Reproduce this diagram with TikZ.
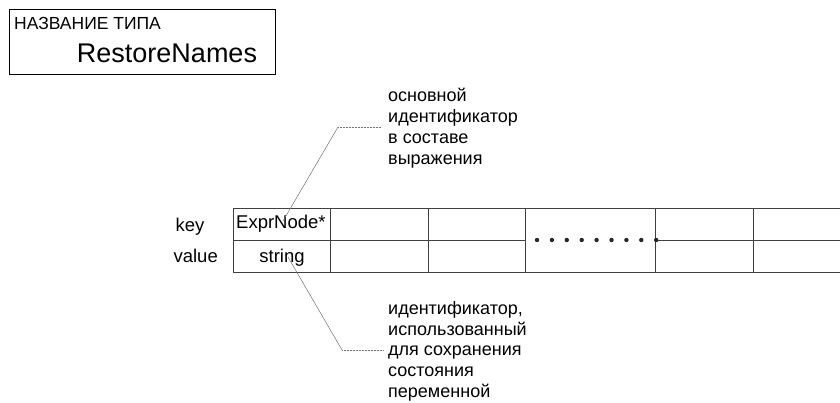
\documentclass[tikz,border=0pt]{standalone}
\usepackage{fontspec}
\setmainfont{Liberation Sans}
\begin{document}
\begin{tikzpicture}[x=1pt,y=-1pt]
\useasboundingbox (0,0) rectangle (840,403);
\tikzset{
  gridline/.style={draw=black!75, line width=0.9pt},
  celltext/.style={font=\fontsize{18.5}{21}\selectfont, inner sep=0pt},
  note/.style={font=\fontsize{18}{21.3}\selectfont, align=left, inner sep=0pt, anchor=base west},
  leader/.style={draw=black!55, line width=0.5pt},
  leaderdot/.style={draw=black!55, line width=0.6pt, dash pattern=on 0.6pt off 0.9pt},
  dotmark/.style={fill=black!85}
}
% title box
\node[draw, line width=1.3pt, minimum width=266pt, minimum height=65pt, anchor=north west, inner sep=0pt] (title) at (9,9) {};
\node[anchor=base west, font=\fontsize{17.5}{20}\selectfont, inner sep=0pt] (tname) at (14,30) {НАЗВАНИЕ ТИПА};
\node[anchor=base, font=\fontsize{27}{30}\selectfont, inner sep=0pt] (rname) at (167,63) {RestoreNames};
% table
\draw[gridline] (233,208) -- (841,208);
\draw[gridline] (233,272) -- (841,272);
\draw[gridline] (233,240) -- (525,240);
\draw[gridline] (655,240) -- (841,240);
\foreach \xx in {233,330,428,525,655,753} \draw[gridline] (\xx,208) -- (\xx,272);
\foreach \i in {0,...,8} \fill[dotmark] (537+\i*14.9,240) circle (2.2pt);
% row labels
\node[celltext, anchor=base] (key) at (190,232) {key};
\node[celltext, anchor=base east] (value) at (218,262) {value};
\node[celltext, anchor=base west] (expr) at (236,229) {ExprNode*};
\node[celltext, anchor=base] (str) at (282,262) {string};
% notes (base anchor = last line)
\node[note] (topnote) at (388,165) {основной\\идентификатор\\в составе\\выражения};
\node[note, font=\fontsize{18}{20.6}\selectfont] (botnote) at (388,397) {идентификатор,\\использованный\\для сохранения\\состояния\\переменной};
% leaders
\coordinate (a1) at (283,221);
\coordinate (a2) at (338,127);
\coordinate (a3) at (381,127);
\coordinate (b1) at (288,257);
\coordinate (b2) at (342,350);
\coordinate (b3) at (383,350);
\draw[leader] (a1) -- (a2);
\draw[leaderdot] (a2) -- (a3);
\draw[leader] (b1) -- (b2);
\draw[leaderdot] (b2) -- (b3);
\end{tikzpicture}
\end{document}
